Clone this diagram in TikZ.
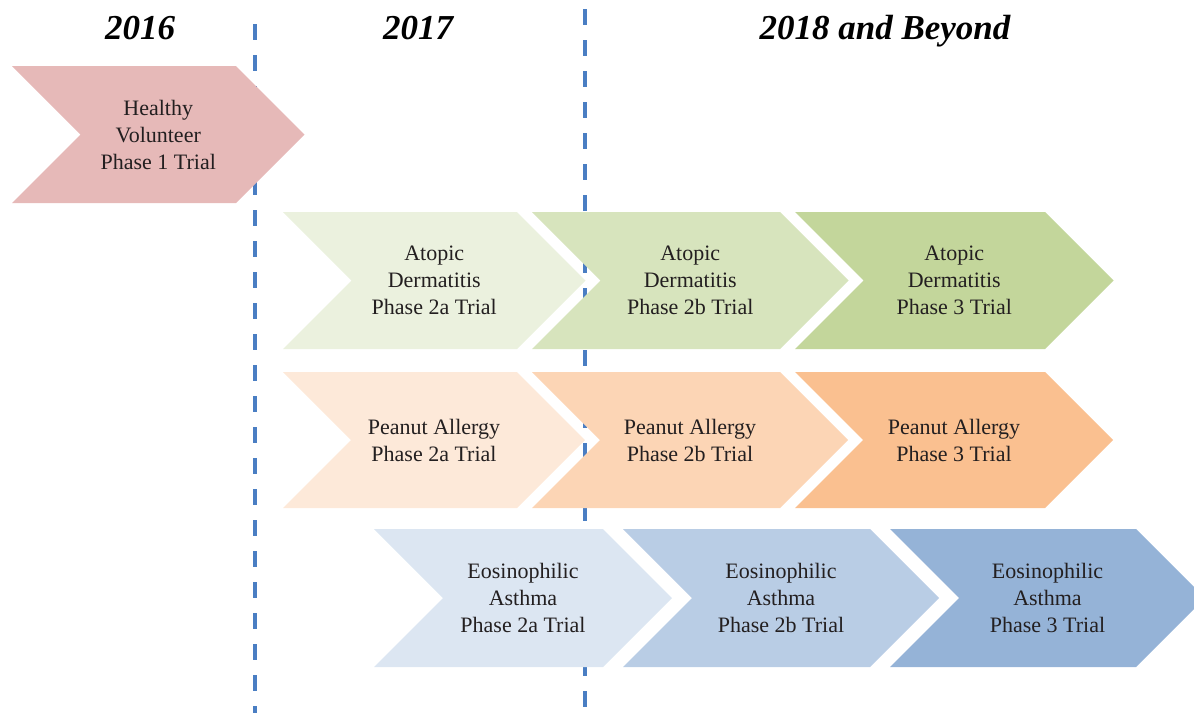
\documentclass[tikz,border=0pt]{standalone}
\usepackage{fontspec}
\setmainfont{Liberation Serif}
\definecolor{hv}{HTML}{E6B9B8}
\definecolor{ad1}{HTML}{EBF1DE}
\definecolor{ad2}{HTML}{D7E4BD}
\definecolor{ad3}{HTML}{C3D69B}
\definecolor{pa1}{HTML}{FDE9D9}
\definecolor{pa2}{HTML}{FCD5B5}
\definecolor{pa3}{HTML}{FAC090}
\definecolor{ea1}{HTML}{DCE6F2}
\definecolor{ea2}{HTML}{B9CDE5}
\definecolor{ea3}{HTML}{95B3D7}
\definecolor{dash}{HTML}{4A7EC3}
\definecolor{txt}{HTML}{231F20}
\newcommand{\chv}[7]{%
  \path[fill=#6] (#2,#4) -- (#3,#4) -- ({#3+(#5-#4)/2},{(#4+#5)/2}) -- (#3,#5) -- (#2,#5) -- ({#2+(#5-#4)/2},{(#4+#5)/2}) -- cycle;
  \node[lbl] (#1) at ({(#2+#3+(#5-#4)/2)/2},{(#4+#5)/2}) {#7};
}
\begin{document}
\begin{tikzpicture}[x=1pt,y=-1pt,
  lbl/.style={align=center,text=txt,font=\fontsize{22}{27}\selectfont,inner sep=0pt},
  yr/.style={font=\fontsize{35}{40}\selectfont\bfseries\itshape,text=black,inner sep=0pt,anchor=base},
  sep/.style={draw=dash,line width=4pt,dash pattern=on 16pt off 15pt}]
\useasboundingbox (0,0) rectangle (1194,713);
\clip (0,0) rectangle (1194,713);
% year headings
\node[yr] (y16) at (140,39) {2016};
\node[yr] (y17) at (418,39) {2017};
\node[yr] (y18) at (885,39) {2018 and Beyond};
% separators
\coordinate (s1t) at (255,24);
\coordinate (s1b) at (255,713);
\coordinate (s2t) at (585,9);
\coordinate (s2b) at (585,713);
\draw[sep] (s1t) -- (s1b);
\draw[sep] (s2t) -- (s2b);
% chevrons
\chv{hv}{12}{236}{66}{203}{hv}{Healthy\\Volunteer\\Phase 1 Trial}
\chv{ada}{283}{517}{212}{349}{ad1}{Atopic\\Dermatitis\\Phase 2a Trial}
\chv{adb}{532}{780}{212}{349}{ad2}{Atopic\\Dermatitis\\Phase 2b Trial}
\chv{adc}{795}{1045}{212}{349}{ad3}{Atopic\\Dermatitis\\Phase 3 Trial}
\chv{paa}{283}{517}{372}{508}{pa1}{Peanut Allergy\\Phase 2a Trial}
\chv{pab}{532}{780}{372}{508}{pa2}{Peanut Allergy\\Phase 2b Trial}
\chv{pac}{795}{1045}{372}{508}{pa3}{Peanut Allergy\\Phase 3 Trial}
\chv{eaa}{374}{603}{529}{667}{ea1}{Eosinophilic\\Asthma\\Phase 2a Trial}
\chv{eab}{623}{870}{529}{667}{ea2}{Eosinophilic\\Asthma\\Phase 2b Trial}
\chv{eac}{890}{1136}{529}{667}{ea3}{Eosinophilic\\Asthma\\Phase 3 Trial}
\end{tikzpicture}
\end{document}
